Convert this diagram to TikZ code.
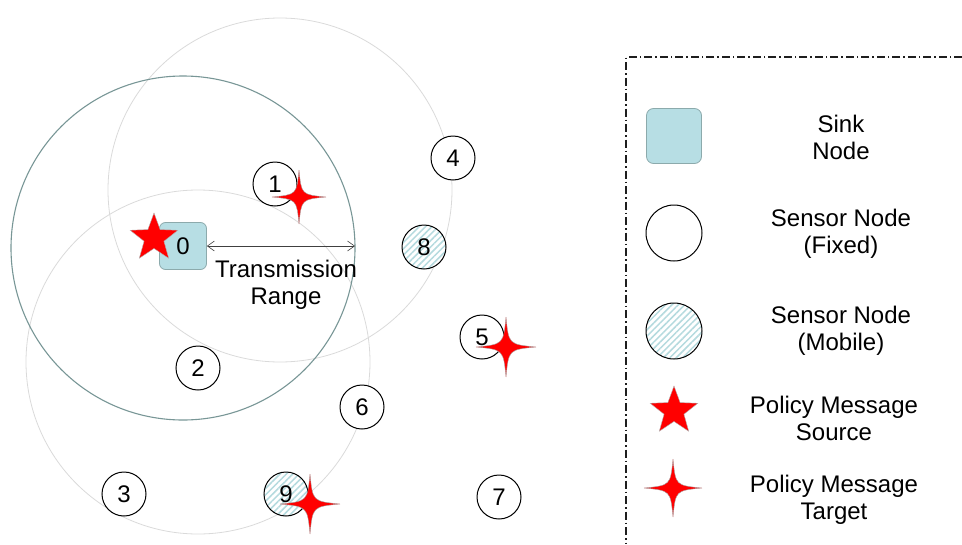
\documentclass[tikz,border=0pt]{standalone}
\usepackage{fontspec}
\setmainfont{Liberation Sans}
\usetikzlibrary{shapes.geometric,patterns.meta,arrows.meta}
\definecolor{sinkfill}{RGB}{183,222,228}
\definecolor{sinkdraw}{RGB}{140,170,172}
\definecolor{bigring}{RGB}{120,150,150}
\definecolor{lightring}{RGB}{218,218,218}
\definecolor{hatch}{RGB}{180,218,222}
\definecolor{legline}{RGB}{30,30,30}
\tikzset{
  pics/tstar/.style={code={
    \pgfmathsetmacro{\rr}{#1}\pgfmathsetmacro{\cc}{0.09*#1}
    \path[fill=red,draw=gray!70,line width=0.4pt]
      (0,\rr) .. controls (\cc,\cc) .. (\rr,0)
      .. controls (\cc,-\cc) .. (0,-\rr)
      .. controls (-\cc,-\cc) .. (-\rr,0)
      .. controls (-\cc,\cc) .. (0,\rr) -- cycle;
  }}
}
\begin{document}
\begin{tikzpicture}[x=1pt,y=-1pt,
  every node/.style={font=\fontsize{24}{27}\selectfont},
  sensor/.style={circle,draw=black,line width=1pt,fill=white,minimum size=44pt,inner sep=0pt},
  mobile/.style={circle,draw=black,line width=1pt,minimum size=44pt,inner sep=0pt,
     preaction={fill=white},pattern={Lines[angle=45,distance=4.5pt,line width=1.5pt]},pattern color=hatch},
  sink/.style={rectangle,rounded corners=6pt,fill=sinkfill,draw=sinkdraw,line width=0.8pt,minimum size=47pt,inner sep=0pt},
  sstar/.style={star,star points=5,star point ratio=2.4,minimum size=50pt,inner sep=0pt,fill=red,draw=gray!60,line width=0.4pt},
  ring/.style={line width=0.8pt},
  legendline/.style={legline,line width=1.3pt,dash pattern=on 8pt off 3pt on 1.5pt off 3pt},
  legtext/.style={align=center}
]
\useasboundingbox (0,0) rectangle (962,544);
% transmission ranges
\draw[ring,lightring] (280,190) circle[radius=172pt];
\draw[ring,lightring] (198,362) circle[radius=172pt];
\draw[ring,bigring,line width=1.1pt] (183,248) circle[radius=172pt];

% nodes
\node[sink] (n0) at (183,246) {0};
\node[sensor] (n1) at (275,184) {1};
\node[sensor] (n2) at (198,368) {2};
\node[sensor] (n3) at (124,494) {3};
\node[sensor] (n4) at (453,158) {4};
\node[sensor] (n5) at (482,337) {5};
\node[sensor] (n6) at (362,407) {6};
\node[sensor] (n7) at (499,497) {7};
\node[mobile] (n8) at (424,247) {8};
\node[mobile] (n9) at (286,494) {9};

% transmission range arrow
\coordinate (rangeend) at (355,246);
\draw[{Straight Barb[length=7pt,width=10pt]}-{Straight Barb[length=7pt,width=10pt]},line width=0.6pt,black!75] (n0.east) -- (rangeend);
\node[legtext] (trange) at (286,285) {Transmission\\Range};

% stars
\node[sstar] (src0) at (154,238) {};
\pic at (299,197) {tstar=27};
\pic at (506,347) {tstar=30};
\pic at (310,504) {tstar=30};

% legend
\coordinate (lgtr) at (962,57);
\coordinate (lgtl) at (626,57);
\coordinate (lgbl) at (626,544);
\draw[legendline] (lgtr) -- (lgtl) -- (lgbl);

\node[sink,minimum size=55pt,rounded corners=7pt] (lsink) at (674,136) {};
\node[legtext] (tsink) at (841,137) {Sink\\Node};
\node[sensor,minimum size=56pt] (lfixed) at (674,233) {};
\node[legtext] (tfixed) at (841,234) {Sensor Node\\(Fixed)};
\node[mobile,minimum size=56pt] (lmobile) at (674,331) {};
\node[legtext] (tmobile) at (841,331) {Sensor Node\\(Mobile)};
\node[sstar] (lsrc) at (674,411) {};
\node[legtext] (tsrc) at (834,418) {Policy Message\\Source};
\pic at (673,488) {tstar=29};
\node[legtext] (ttgt) at (834,500) {Policy Message\\Target};
\end{tikzpicture}
\end{document}
